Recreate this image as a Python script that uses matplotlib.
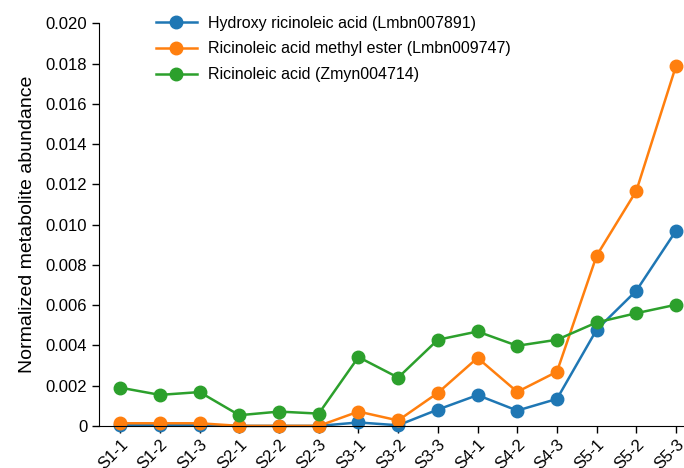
import numpy as np
import matplotlib.pyplot as plt
from matplotlib.ticker import FuncFormatter

plt.rcParams['font.family'] = ['Liberation Sans', 'DejaVu Sans']

samples = ['S1-1', 'S1-2', 'S1-3', 'S2-1', 'S2-2', 'S2-3', 'S3-1', 'S3-2',
           'S3-3', 'S4-1', 'S4-2', 'S4-3', 'S5-1', 'S5-2', 'S5-3']

hydroxy = [0.00003, 0.00003, 0.00003, 0.0, 0.0, 0.0, 0.00017, 0.00003,
           0.00081, 0.00153, 0.00076, 0.00134, 0.00478, 0.00672, 0.0097]
methyl_ester = [0.00013, 0.00013, 0.00013, 0.0, 0.0, 0.0, 0.00071, 0.00027,
                0.00164, 0.00338, 0.00169, 0.00269, 0.00846, 0.01168, 0.0179]
ricinoleic = [0.0019, 0.00154, 0.00168, 0.00053, 0.00071, 0.00061, 0.00342, 0.0024,
              0.00428, 0.00469, 0.00398, 0.00428, 0.00514, 0.0056, 0.00602]

names = ['Hydroxy ricinoleic acid (Lmbn007891)',
         'Ricinoleic acid methyl ester (Lmbn009747)',
         'Ricinoleic acid (Zmyn004714)']
colors = ['#1f77b4', '#ff7f0e', '#2ca02c']

fig = plt.figure(figsize=(6.84, 4.68), dpi=100)
ax = fig.add_axes([0.145, 0.09, 0.855, 0.86])

x = np.arange(len(samples))
for vals, name, c in zip([hydroxy, methyl_ester, ricinoleic], names, colors):
    ax.plot(x, vals, '-o', color=c, lw=1.8, ms=9, label=name, clip_on=False)

ax.set_xlim(-0.53, 14.2)
ax.set_ylim(0, 0.020)
ax.set_yticks(np.arange(0, 0.0201, 0.002))
ax.yaxis.set_major_formatter(FuncFormatter(lambda v, p: '0' if v == 0 else f'{v:.3f}'))
ax.set_xticks(x)
ax.set_xticklabels(samples, rotation=45, ha='right', rotation_mode='anchor')
ax.tick_params(axis='both', labelsize=12, length=5, width=1, direction='out')
ax.tick_params(axis='x', pad=3)
ax.set_ylabel('Normalized metabolite abundance', fontsize=14, labelpad=7)

for side in ['top', 'right']:
    ax.spines[side].set_visible(False)

ax.legend(loc='upper left', bbox_to_anchor=(0.072, 1.055), frameon=False,
          fontsize=11.5, handlelength=2.6, handletextpad=0.7, labelspacing=0.68)

fig.savefig('out.png', dpi=100)
